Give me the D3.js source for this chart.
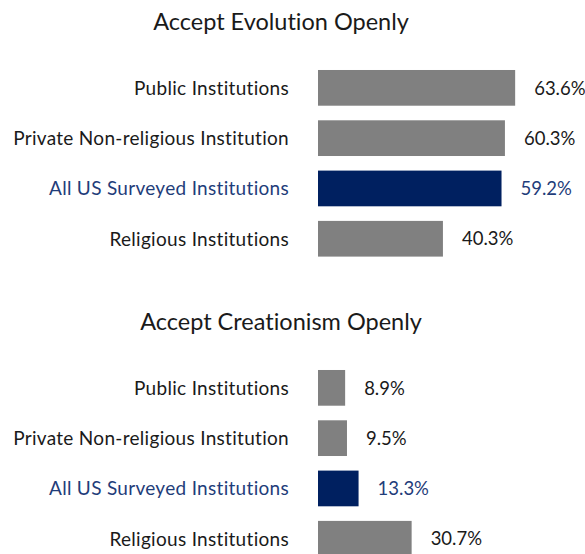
<!DOCTYPE html>
<html>
<head>
<meta charset="utf-8">
<script src="https://cdn.jsdelivr.net/npm/d3@7"></script>
<style>
  html, body { margin: 0; padding: 0; background: #ffffff; }
  svg { display: block; }
  text { font-family: Lato, "Open Sans", sans-serif; font-variant-ligatures: none; font-feature-settings: "liga" 0, "clig" 0; }
</style>
</head>
<body>
<svg id="chart" width="585" height="554"></svg>
<script>
// Institution groups (same order in both panels)
const categories = [
  "Public Institutions",
  "Private Non-religious Institution",
  "All US Surveyed Institutions",
  "Religious Institutions"
];
// Which row is the overall total (highlighted in navy)
const highlight = "All US Surveyed Institutions";

// Percent who openly accept evolution
const evolutionValues = [63.6, 60.3, 59.2, 40.3];
// Percent who openly accept creationism
const creationismValues = [8.9, 9.5, 13.3, 30.7];

const panelTitles = ["Accept Evolution Openly", "Accept Creationism Openly"];

const GREY = "#808080";
const NAVY = "#002060";
const TEXT = "#1a1a1a";
const BLUE_TEXT = "#1f3d7a";

const svg = d3.select("#chart");

function drawPanel(title, values, top, pxPerPct) {
  const g = svg.append("g");
  const data = categories.map((c, i) => ({ name: c, value: values[i] }));

  const x = d3.scaleLinear().domain([0, 100]).range([318, 318 + 100 * pxPerPct]);
  const y = d3.scaleBand()
    .domain(categories)
    .range([top + 62.7, top + 263.9])
    .paddingInner(0.29)
    .paddingOuter(0.145);

  g.append("text")
    .attr("x", 281)
    .attr("y", top + 30)
    .attr("text-anchor", "middle")
    .attr("font-size", 23.5)
    .attr("fill", TEXT)
    .text(title);

  g.selectAll("rect")
    .data(data)
    .join("rect")
    .attr("x", x(0))
    .attr("y", d => y(d.name))
    .attr("width", d => x(d.value) - x(0))
    .attr("height", y.bandwidth())
    .attr("fill", d => d.name === highlight ? NAVY : GREY);

  g.selectAll("text.cat")
    .data(data)
    .join("text")
    .attr("class", "cat")
    .attr("x", 289)
    .attr("y", d => y(d.name) + y.bandwidth() / 2)
    .attr("dy", "0.36em")
    .attr("text-anchor", "end")
    .attr("font-size", 19)
    .attr("letter-spacing", 0.3)
    .attr("fill", d => d.name === highlight ? BLUE_TEXT : TEXT)
    .text(d => d.name);

  g.selectAll("text.val")
    .data(data)
    .join("text")
    .attr("class", "val")
    .attr("x", d => x(d.value) + 19)
    .attr("y", d => y(d.name) + y.bandwidth() / 2)
    .attr("dy", "0.36em")
    .attr("font-size", 18.5)
    .attr("fill", d => d.name === highlight ? BLUE_TEXT : TEXT)
    .text(d => d.value.toFixed(1) + "%");
}

drawPanel(panelTitles[0], evolutionValues, 0, 3.1);
drawPanel(panelTitles[1], creationismValues, 300, 3.05);
</script>
</body>
</html>
